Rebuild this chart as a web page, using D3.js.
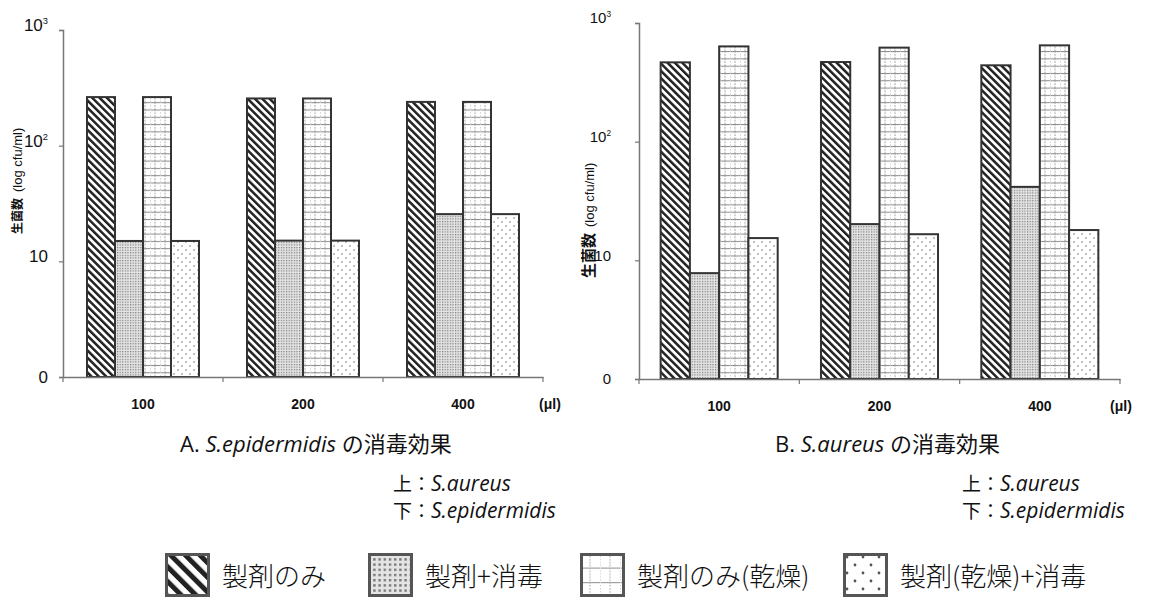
<!DOCTYPE html>
<html>
<head>
<meta charset="utf-8">
<script src="https://cdn.jsdelivr.net/npm/d3@7/dist/d3.min.js"></script>
<style>
  body { margin: 0; background: #fff; }
  svg { display: block; }
</style>
</head>
<body>
<div id="chart"></div>
<script>
// ---- data (log scale, "0" drawn at 10^0) ----
const doses = ["100", "200", "400"];
const seriesNames = ["製剤のみ", "製剤+消毒", "製剤のみ(乾燥)", "製剤(乾燥)+消毒"];
// A. S.epidermidis
const epiOnly      = [263, 256, 239];
const epiDisinf    = [15, 15.1, 25.6];
const epiDryOnly   = [263, 256, 239];
const epiDryDisinf = [15, 15.1, 25.6];
// B. S.aureus
const aurOnly      = [466, 469, 440];
const aurDisinf    = [7.8, 20.2, 41.6];
const aurDryOnly   = [635, 620, 648];
const aurDryDisinf = [15.4, 16.6, 18];
const yTicks = [1, 10, 100, 1000];
const yTickBase = ["0", "10", "10", "10"];
const yTickExp  = ["", "", "2", "3"];
const unitLabel = "(μl)";
const yTitleJa = "生菌数";
const yTitleEn = "(log cfu/ml)";

const W = 1150, H = 599;
const svg = d3.select("#chart").append("svg")
  .attr("width", W).attr("height", H)
  .style("font-family", "'Liberation Sans', Arial, sans-serif");

// ---- fill patterns ----
const defs = svg.append("defs");
function makePatterns(suffix, k) {
  // diagonal "\\" stripes
  const p0 = defs.append("pattern").attr("id", "stripe" + suffix)
    .attr("patternUnits", "userSpaceOnUse").attr("width", 5.2 * k).attr("height", 5.2 * k)
    .attr("patternTransform", "rotate(-45)");
  p0.append("rect").attr("width", 5.2 * k).attr("height", 5.2 * k).attr("fill", "#fff");
  p0.append("rect").attr("width", 2.5 * k).attr("height", 5.2 * k).attr("fill", "#222");

  // dense dots (gray stipple)
  const p1 = defs.append("pattern").attr("id", "stipple" + suffix)
    .attr("patternUnits", "userSpaceOnUse").attr("width", 2.6 * k).attr("height", 2.6 * k);
  p1.append("rect").attr("width", 2.6 * k).attr("height", 2.6 * k).attr("fill", "#e4e4e4");
  p1.append("rect").attr("width", 1.2 * k).attr("height", 1.2 * k).attr("fill", "#7a7a7a");

  // grid with dotted verticals
  const p2 = defs.append("pattern").attr("id", "grid" + suffix)
    .attr("patternUnits", "userSpaceOnUse").attr("width", 10 * k).attr("height", 7.3 * k);
  p2.append("rect").attr("width", 10 * k).attr("height", 7.3 * k).attr("fill", "#fff");
  p2.append("line").attr("x1", 0).attr("x2", 10 * k).attr("y1", 0.5).attr("y2", 0.5)
    .attr("stroke", "#8a8a8a").attr("stroke-width", 1);
  p2.append("line").attr("x1", 5 * k).attr("x2", 5 * k).attr("y1", 0).attr("y2", 7.3 * k)
    .attr("stroke", "#9a9a9a").attr("stroke-width", 1).attr("stroke-dasharray", "1.5,1.5");
  p2.append("line").attr("x1", 0.5).attr("x2", 0.5).attr("y1", 0).attr("y2", 7.3 * k)
    .attr("stroke", "#c4c4c4").attr("stroke-width", 1).attr("stroke-dasharray", "1,2");

  // sparse dots
  const p3 = defs.append("pattern").attr("id", "sparse" + suffix)
    .attr("patternUnits", "userSpaceOnUse").attr("width", 8 * k).attr("height", 8 * k);
  p3.append("rect").attr("width", 8 * k).attr("height", 8 * k).attr("fill", "#fff");
  p3.append("circle").attr("cx", 2 * k).attr("cy", 2 * k).attr("r", 0.7 * k).attr("fill", "#555");
  p3.append("circle").attr("cx", 6 * k).attr("cy", 6 * k).attr("r", 0.7 * k).attr("fill", "#555");
}
makePatterns("", 1);
makePatterns("L", 2);
const fills = ["stripe", "stipple", "grid", "sparse"];

// ---- one panel ----
function drawPanel(cfg) {
  const x = d3.scaleBand().domain(doses).range([cfg.x0, cfg.x1]);
  const xs = d3.scaleBand().domain(d3.range(seriesNames.length))
    .range([x.bandwidth() * cfg.inset, x.bandwidth() * (1 - cfg.inset)]);
  const y = d3.scaleLog().domain([1, 1000]).range([cfg.yBottom, cfg.yTop]);
  const g = svg.append("g");

  // bars
  cfg.values.forEach((vals, si) => {
    g.append("g").selectAll("rect").data(vals).join("rect")
      .attr("x", (d, i) => x(doses[i]) + xs(si))
      .attr("y", d => y(d))
      .attr("width", xs.bandwidth())
      .attr("height", d => y(1) - y(d))
      .attr("fill", `url(#${fills[si]})`)
      .attr("stroke", "#333")
      .attr("stroke-width", 2);
  });

  // y axis
  const ya = g.append("g")
    .attr("transform", `translate(${cfg.x0},0)`)
    .call(d3.axisLeft(y).tickValues(yTicks).tickSize(4).tickSizeOuter(4)
      .tickPadding(cfg.tickPad).tickFormat(() => ""));
  ya.select(".domain").attr("stroke", "#777").attr("stroke-width", 1.5);
  ya.selectAll(".tick line").attr("stroke", "#777").attr("stroke-width", 1.2);
  ya.selectAll(".tick text").each(function (d) {
    const i = yTicks.indexOf(d);
    const t = d3.select(this)
      .attr("font-size", cfg.tickFont)
      .attr("fill", "#111")
      .attr("y", d > 1 ? -5 : 0)
      .style("font-family", "'Liberation Sans Narrow','Liberation Sans',Arial,sans-serif");
    t.append("tspan").text(yTickBase[i]);
    if (yTickExp[i]) {
      t.append("tspan").attr("font-size", cfg.tickFont * 0.55)
        .attr("dy", -cfg.tickFont * 0.4).text(yTickExp[i]);
    }
  });

  // x axis
  const xa = g.append("g")
    .attr("transform", `translate(0,${cfg.yBottom})`)
    .call(d3.axisBottom(x).tickSize(0).tickSizeOuter(0).tickPadding(cfg.xPad));
  xa.select(".domain").attr("stroke", "#777").attr("stroke-width", 1.5);
  xa.selectAll(".tick text").attr("font-size", 14).attr("font-weight", "bold").attr("fill", "#111")
    .style("font-family", "'Liberation Sans Narrow','Liberation Sans',Arial,sans-serif");
  const bounds = doses.map(d => x(d)).concat([x.range()[1]]);
  xa.selectAll(".bound").data(bounds).join("line").attr("class", "bound")
    .attr("x1", d => d).attr("x2", d => d).attr("y1", 0).attr("y2", 5)
    .attr("stroke", "#777").attr("stroke-width", 1.2);
  xa.append("text").attr("x", cfg.x1 + cfg.unitDx).attr("y", cfg.xPad).attr("dy", "0.71em")
    .attr("font-size", 14).attr("font-weight", "bold").attr("fill", "#111")
    .style("font-family", "'Liberation Sans Narrow','Liberation Sans',Arial,sans-serif")
    .text(unitLabel);

  // y title
  const yt = g.append("text")
    .attr("transform", `translate(${cfg.titleX},${cfg.titleY}) rotate(-90)`)
    .attr("fill", "#111");
  yt.append("tspan").attr("font-size", cfg.titleJaSize).attr("font-weight", "bold")
    .style("font-family", "'Noto Sans CJK JP'").text(yTitleJa);
  yt.append("tspan").attr("font-size", 13).attr("dx", 6).text(yTitleEn);

  // captions
  const cap = g.append("text").attr("x", cfg.capX).attr("y", 452)
    .attr("font-size", 22).attr("fill", "#111")
    .style("font-family", "'Open Sans','Noto Sans CJK JP',sans-serif");
  cap.append("tspan").text(cfg.capLetter + " ");
  cap.append("tspan").attr("font-style", "italic").text(cfg.capSpecies);
  cap.append("tspan").text(" の消毒効果");

  [["上：", "S.aureus", 491], ["下：", "S.epidermidis", 518]].forEach(([k, sp, yy]) => {
    const t = g.append("text").attr("x", cfg.noteX).attr("y", yy)
      .attr("font-size", 19).attr("fill", "#111")
      .style("font-family", "'Open Sans','Noto Sans CJK JP',sans-serif");
    t.append("tspan").style("font-family", "'Noto Sans CJK JP'").text(k);
    t.append("tspan").attr("font-style", "italic").attr("font-size", 21).text(sp);
  });
}

drawPanel({
  values: [epiOnly, epiDisinf, epiDryOnly, epiDryDisinf],
  x0: 63, x1: 543, yTop: 30, yBottom: 377, inset: 0.15,
  tickPad: 11, tickFont: 17, xPad: 22, unitDx: 7,
  titleX: 22, titleY: 234, titleJaSize: 12,
  capLetter: "A.", capSpecies: "S.epidermidis", capX: 180, noteX: 393
});
drawPanel({
  values: [aurOnly, aurDisinf, aurDryOnly, aurDryDisinf],
  x0: 639, x1: 1120, yTop: 23, yBottom: 379, inset: 0.135,
  tickPad: 24, tickFont: 15, xPad: 22, unitDx: 1,
  titleX: 594, titleY: 278, titleJaSize: 15,
  capLetter: "B.", capSpecies: "S.aureus", capX: 775, noteX: 962
});

// ---- legend ----
const legendX = [165, 368, 580, 843];
const legend = svg.append("g").attr("transform", "translate(0,553)");
seriesNames.forEach((name, i) => {
  const it = legend.append("g").attr("transform", `translate(${legendX[i]},0)`);
  it.append("rect").attr("x", 1.5).attr("y", 1.5).attr("width", 42).attr("height", 41)
    .attr("fill", `url(#${fills[i]}L)`).attr("stroke", "#555").attr("stroke-width", 3);
  it.append("text").attr("x", 57).attr("y", 33)
    .attr("font-size", 26).attr("font-weight", 300).attr("fill", "#111")
    .style("font-family", "'Noto Sans CJK JP',sans-serif")
    .text(name);
});
</script>
</body>
</html>
